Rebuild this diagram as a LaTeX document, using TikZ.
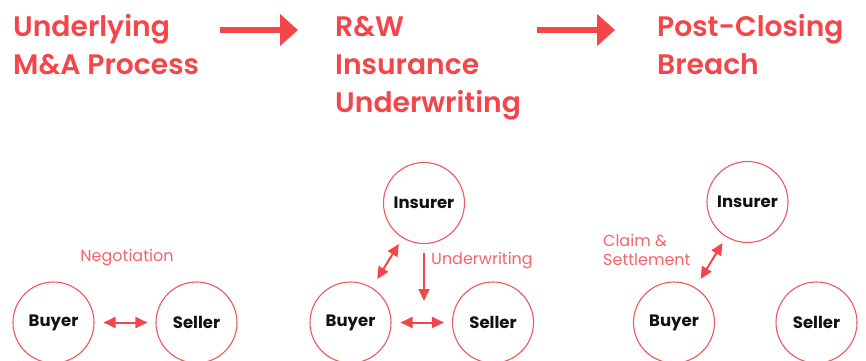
\documentclass[tikz,border=0pt]{standalone}
\usepackage{fontspec}
\setmainfont{Poppins}[BoldFont={Poppins SemiBold}]
\newfontfamily\heavy{Poppins Bold}
\usetikzlibrary{arrows.meta}
\definecolor{hred}{RGB}{244,70,74}
\definecolor{cred}{RGB}{240,86,92}
\definecolor{lred}{RGB}{242,100,106}
\definecolor{ink}{RGB}{17,17,17}
\tikzset{
  head/.style={font=\fontsize{28.2}{28}\selectfont\bfseries, text=hred, anchor=base west, inner sep=0pt},
  party/.style={circle, draw=cred, line width=1.1pt, minimum size=81pt, inner sep=0pt, font=\fontsize{16.5}{17}\heavy, text=ink},
  lab/.style={font=\fontsize{16}{16}\selectfont, text=lred, inner sep=0pt},
  bigarrow/.style={draw=hred, line width=6pt, -{Triangle[length=18pt,width=31pt]}},
  dbl/.style={draw=hred, line width=2pt, {Triangle[length=12pt,width=11pt]}-{Triangle[length=12pt,width=11pt]}},
  sgl/.style={draw=hred, line width=1.6pt, -{Triangle[length=12pt,width=11pt]}}
}
\begin{document}
\begin{tikzpicture}[x=1pt,y=-1pt]
\useasboundingbox (0,0) rectangle (866,360);
\clip (0,0) rectangle (866,360);
% headers
\node[head] (h1a) at (13,36) {Underlying};
\node[head] (h1b) at (13,74) {M\&A Process};
\node[head] (h2a) at (335,36) {R\&W};
\node[head] (h2b) at (335,74) {Insurance};
\node[head] (h2c) at (335,112) {Underwriting};
\node[head] (h3a) at (657,36) {Post-Closing};
\node[head] (h3b) at (657,74) {Breach};
\coordinate (a1s) at (220,30);
\coordinate (a1e) at (298,30);
\coordinate (a2s) at (537,30);
\coordinate (a2e) at (615,30);
\draw[bigarrow] (a1s) -- (a1e);
\draw[bigarrow] (a2s) -- (a2e);
% panel 1
\node[party] (b1) at (53.5,322.5) {Buyer};
\node[party] (s1) at (196.5,322.5) {Seller};
\node[lab] (neg) at (127,258) {Negotiation};
\draw[dbl, shorten <=9pt, shorten >=8pt] (b1) -- (s1);
% panel 2
\node[party] (i2) at (424,203) {Insurer};
\node[party] (b2) at (350.5,322.5) {Buyer};
\node[party] (s2) at (493,322.5) {Seller};
\draw[dbl, shorten <=9pt, shorten >=8pt] (b2) -- (s2);
\draw[dbl, shorten <=7pt, shorten >=10pt] (i2) -- (b2);
\coordinate (uwend) at (424,301);
\draw[sgl, shorten <=9pt] (i2.south) -- (uwend);
\node[lab, anchor=west] (uw) at (431,261) {Underwriting};
% panel 3
\node[party] (i3) at (747.5,202) {Insurer};
\node[party] (b3) at (674,322.5) {Buyer};
\node[party] (s3) at (816.5,322.5) {Seller};
\draw[dbl, shorten <=7pt, shorten >=10pt] (i3) -- (b3);
\node[lab, anchor=west] (cs1) at (603,240) {Claim \&};
\node[lab, anchor=west] (cs2) at (603,260) {Settlement};
\end{tikzpicture}
\end{document}
